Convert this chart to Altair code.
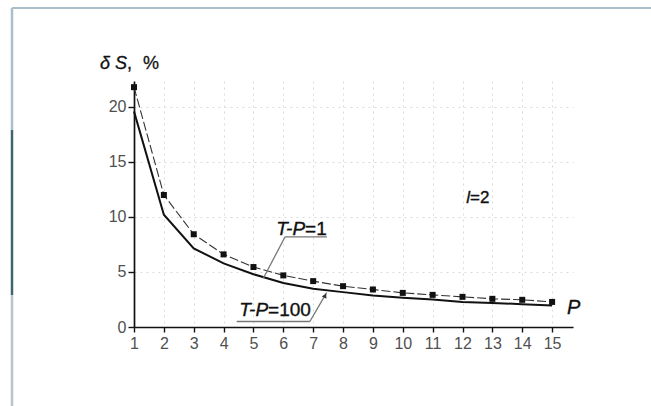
import altair as alt
import pandas as pd

# Relative error dS (%) versus P, for l = 2
p_values = list(range(1, 16))
ds_tp1 = [21.8, 12.0, 8.43, 6.6, 5.45, 4.69, 4.17, 3.71, 3.41, 3.1, 2.92, 2.74, 2.56, 2.47, 2.28]
ds_tp100 = [19.6, 10.2, 7.15, 5.78, 4.8, 4.0, 3.47, 3.17, 2.86, 2.65, 2.5, 2.28, 2.19, 2.07, 1.95]
y_ticks = [0, 5, 10, 15, 20]
x_ticks = p_values

df1 = pd.DataFrame({"P": p_values, "dS": ds_tp1})
df100 = pd.DataFrame({"P": p_values, "dS": ds_tp100})

FONT = "Liberation Sans"
x_scale = alt.Scale(domain=[1, 15.7], nice=False, zero=False)
y_scale = alt.Scale(domain=[0, 22.36], nice=False, zero=False)

# one axis definition shared by every layer so they merge cleanly
x_axis = alt.Axis(
    values=x_ticks, title=None, domainColor="#111", domainWidth=1.7,
    tickColor="#111", tickSize=5, tickWidth=1.4, labelFontSize=16,
    labelColor="#505050", labelFont=FONT, labelPadding=3, labelFlush=False,
    grid=True, gridColor="#dadada", gridDash=[2, 4], gridWidth=1)
y_axis = alt.Axis(
    values=y_ticks, title=None, domainColor="#111", domainWidth=1.7,
    tickColor="#111", tickSize=6, tickWidth=1.4, labelFontSize=16,
    labelColor="#505050", labelFont=FONT, labelPadding=2,
    grid=True, gridColor="#dadada", gridDash=[2, 4], gridWidth=1)


def xd(v):
    return alt.XDatum(v, scale=x_scale, axis=x_axis)


def yd(v):
    return alt.YDatum(v, scale=y_scale, axis=y_axis)


xf = alt.X("P:Q", scale=x_scale, axis=x_axis)
yf = alt.Y("dS:Q", scale=y_scale, axis=y_axis)

curve100 = alt.Chart(df100).mark_line(color="#111", strokeWidth=2).encode(x=xf, y=yf)
curve1 = alt.Chart(df1).mark_line(color="#333", strokeWidth=1.1, strokeDash=[9, 3]).encode(x=xf, y=yf)
points1 = alt.Chart(df1).mark_square(color="#111", size=36, opacity=1).encode(x=xf, y=yf)


def text(s, x, y, size, italic=False, align="left"):
    return alt.Chart().mark_text(
        text=s, font=FONT, fontSize=size, fontStyle="italic" if italic else "normal",
        align=align, baseline="alphabetic", color="#111", stroke="#111", strokeWidth=0.35,
    ).encode(x=xd(x), y=yd(y))


def seg(x1, y1, x2, y2, color="#777", width=1.3):
    return alt.Chart().mark_rule(color=color, strokeWidth=width).encode(
        x=xd(x1), y=yd(y1), x2=alt.datum(x2), y2=alt.datum(y2),
    )


labels = [
    text("T-P", 6.73, 8.4, 19, italic=True, align="right"),
    text("=1", 6.73, 8.4, 19),
    text("T-P", 5.49, 1.0, 19, italic=True, align="right"),
    text("=100", 5.49, 1.0, 19),
    text("l", 12.25, 11.3, 17, italic=True, align="right"),
    text("=2", 12.25, 11.3, 17),
    text("P", 15.5, 1.18, 20, italic=True),
    seg(6.06, 8.2, 7.46, 8.2),
    seg(6.06, 8.2, 5.33, 4.43),
    seg(4.44, 0.5, 6.89, 0.5),
    seg(6.89, 0.5, 7.45, 3.12),
]

arrow = alt.Chart().mark_point(
    shape="triangle-up", filled=True, color="#333", size=28, angle=26, opacity=1
).encode(x=xd(7.4), y=yd(2.85))


# axis title above the y axis
def title_part(s, x, italic=False, align="left"):
    return alt.Chart().mark_text(
        text=s, font=FONT, fontSize=18, fontStyle="italic" if italic else "normal",
        align=align, baseline="alphabetic", color="#111", stroke="#111", strokeWidth=0.3,
    ).encode(x=alt.value(x), y=alt.value(-12))


y_title = [
    title_part("δ", -24, italic=True, align="right"),
    title_part("S", -19, italic=True),
    title_part(",", -7),
    title_part("%", 9),
]

# page frame
frame = [
    alt.Chart().mark_rule(color="#a9bfcc", strokeWidth=2).encode(
        x=alt.value(-122), x2=alt.value(517), y=alt.value(-73)),
    alt.Chart().mark_rule(color="#a9bfcc", strokeWidth=2.5).encode(
        x=alt.value(-122), y=alt.value(-73), y2=alt.value(49)),
    alt.Chart().mark_rule(color="#3e6570", strokeWidth=2.5).encode(
        x=alt.value(-122), y=alt.value(49), y2=alt.value(214)),
    alt.Chart().mark_rule(color="#b8c4c8", strokeWidth=2.5).encode(
        x=alt.value(-122), y=alt.value(214), y2=alt.value(325)),
]

chart = alt.layer(
    curve100, curve1, points1, *labels, arrow, *y_title, *frame
).properties(
    width=439, height=246,
    autosize=alt.AutoSizeParams(type="none"),
    padding={"left": 134, "top": 81, "right": 78, "bottom": 79},
    background="white",
).configure_view(stroke=None)

chart.save("out.html", embed_options={"renderer": "svg", "actions": False})
